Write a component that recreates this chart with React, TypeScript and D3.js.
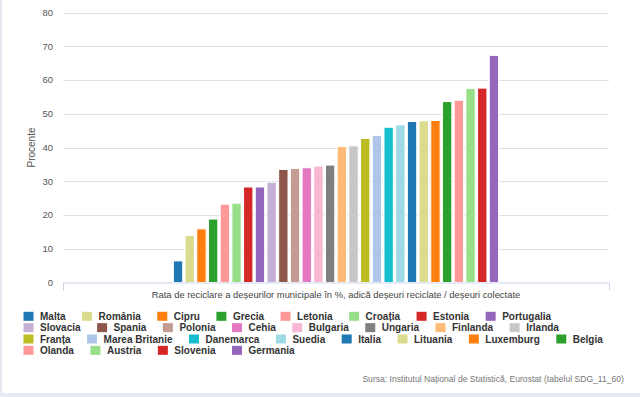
import React, { useRef, useEffect } from 'react';
import * as d3 from 'd3';

// Rata de reciclare a deșeurilor municipale (%), tabelul SDG_11_60
const countries = [
  'Malta', 'România', 'Cipru', 'Grecia', 'Letonia', 'Croația', 'Estonia', 'Portugalia',
  'Slovacia', 'Spania', 'Polonia', 'Cehia', 'Bulgaria', 'Ungaria', 'Finlanda', 'Irlanda',
  'Franța', 'Marea Britanie', 'Danemarca', 'Suedia', 'Italia', 'Lituania', 'Luxemburg', 'Belgia',
  'Olanda', 'Austria', 'Slovenia', 'Germania',
];
const values = [
  6.4, 13.9, 15.9, 18.8, 23.2, 23.5, 28.3, 28.3,
  29.7, 33.5, 33.8, 34.0, 34.5, 34.8, 40.3, 40.5,
  42.7, 43.6, 46.0, 46.7, 47.7, 47.9, 48.0, 53.6,
  54.0, 57.5, 57.6, 67.3,
];
const colors = [
  '#1f77b4', '#dbdb8d', '#ff7f0e', '#2ca02c', '#ff9896', '#98df8a', '#d62728', '#9467bd',
  '#c5b0d5', '#8c564b', '#c49c94', '#e377c2', '#f7b6d2', '#7f7f7f', '#ffbb78', '#c7c7c7',
  '#bcbd22', '#aec7e8', '#17becf', '#9edae5', '#1f77b4', '#dbdb8d', '#ff7f0e', '#2ca02c',
  '#ff9896', '#98df8a', '#d62728', '#9467bd',
];
const yTicks = [0, 10, 20, 30, 40, 50, 60, 70, 80];
const categories = ['Rata de reciclare a deșeurilor municipale în %, adică deșeuri reciclate / deșeuri colectate'];
const yTitle = 'Procente';
const source = 'Sursa: Institutul Național de Statistică, Eurostat (tabelul SDG_11_60)';

const W = 640;
const H = 397;

const App = () => {
  const chartRef = useRef<SVGSVGElement>(null);

  useEffect(() => {
    const svg = d3.select(chartRef.current);
    svg.selectAll('*').remove();

    const plot = { left: 63, right: 609, top: 12.5, bottom: 282.5 };

    // frame of the page
    svg.append('rect').attr('width', W).attr('height', H).attr('fill', '#fff');
    svg.append('rect').attr('x', 0).attr('y', 0).attr('width', 2).attr('height', H).attr('fill', '#e4e9f0');
    svg.append('rect').attr('x', 0).attr('y', 393).attr('width', W).attr('height', 4).attr('fill', '#e6ebf1');

    const yScale = d3.scaleLinear().domain([0, 80]).range([plot.bottom, plot.top]);

    // one category, one series per country
    const xOuter = d3.scaleBand().domain(categories).range([plot.left, plot.right]);
    const bw = xOuter.bandwidth();
    const x0 = xOuter(categories[0]) as number;
    const xInner = d3
      .scaleBand()
      .domain(countries)
      .range([x0 + bw * 0.2, x0 + bw * 0.8])
      .paddingInner(0.2)
      .paddingOuter(0.1);

    // gridlines
    svg
      .append('g')
      .selectAll('line')
      .data(yTicks.filter((t) => t > 0))
      .enter()
      .append('line')
      .attr('x1', plot.left)
      .attr('x2', plot.right)
      .attr('y1', (d) => Math.round(yScale(d)) + 0.5)
      .attr('y2', (d) => Math.round(yScale(d)) + 0.5)
      .attr('stroke', '#e2e2e2')
      .attr('stroke-width', 1.2);

    // y labels
    svg
      .append('g')
      .selectAll('text')
      .data(yTicks)
      .enter()
      .append('text')
      .attr('x', 53)
      .attr('y', (d) => yScale(d))
      .attr('dy', '0.35em')
      .attr('text-anchor', 'end')
      .style('font-family', "'Liberation Sans', Arial, sans-serif")
      .style('font-size', '9.5px')
      .style('fill', '#555')
      .text((d) => d);

    svg
      .append('text')
      .attr('transform', `translate(35,${(plot.top + plot.bottom) / 2}) rotate(-90)`)
      .attr('text-anchor', 'middle')
      .style('font-family', "'Liberation Sans', Arial, sans-serif")
      .style('font-size', '10px')
      .style('fill', '#555')
      .text(yTitle);

    // bars
    svg
      .append('g')
      .selectAll('rect')
      .data(countries.map((c, i) => ({ c, v: values[i], col: colors[i] })))
      .enter()
      .append('rect')
      .attr('x', (d) => xInner(d.c) as number)
      .attr('width', xInner.bandwidth())
      .attr('y', (d) => yScale(d.v))
      .attr('height', (d) => plot.bottom - yScale(d.v))
      .attr('fill', (d) => d.col)
      .attr('stroke', '#fff')
      .attr('stroke-width', 1);

    // x axis
    const ax = svg.append('g').attr('stroke', '#ccd6eb').attr('stroke-width', 1);
    ax.append('line').attr('x1', plot.left).attr('x2', plot.right).attr('y1', plot.bottom + 0.5).attr('y2', plot.bottom + 0.5);
    [x0, x0 + bw].forEach((x) => {
      ax.append('line')
        .attr('x1', Math.round(x) + 0.5)
        .attr('x2', Math.round(x) + 0.5)
        .attr('y1', plot.bottom)
        .attr('y2', plot.bottom + 8);
    });

    svg
      .append('text')
      .attr('x', x0 + bw / 2)
      .attr('y', 297.5)
      .attr('text-anchor', 'middle')
      .style('font-family', "'Liberation Sans', Arial, sans-serif")
      .style('font-size', '9.4px')
      .style('fill', '#444')
      .text(categories[0]);

    // legend, flowing into rows
    const legend = svg.append('g');
    const startX = 23.5;
    const maxX = 614;
    const rowH = 11.35;
    let lx = startX;
    let row = 0;
    countries.forEach((c, i) => {
      const item = legend.append('g');
      const t = item
        .append('text')
        .attr('x', 16.5)
        .attr('dy', '0.35em')
        .style('font-family', "'Liberation Sans', Arial, sans-serif")
        .style('font-size', '10px')
        .style('font-weight', 'bold')
        .style('fill', '#333')
        .text(c);
      const tw = (t.node() as SVGTextElement).getComputedTextLength();
      if (lx > startX && lx + 16.5 + tw > maxX) {
        lx = startX;
        row += 1;
      }
      const cy = 316.3 + row * rowH;
      item.attr('transform', `translate(${lx},${cy})`);
      item
        .append('rect')
        .attr('x', 0)
        .attr('y', -4.5)
        .attr('width', 10)
        .attr('height', 9)
        .attr('fill', colors[i]);
      lx += 16.5 + tw + 16.5;
    });

    svg
      .append('text')
      .attr('x', 624)
      .attr('y', 381.5)
      .attr('text-anchor', 'end')
      .style('font-family', "'Liberation Sans', Arial, sans-serif")
      .style('font-size', '8.6px')
      .style('fill', '#777')
      .text(source);
  }, []);

  return (
    <svg
      ref={chartRef}
      width={W}
      height={H}
      style={{ position: 'absolute', left: 0, top: 0, display: 'block' }}
    ></svg>
  );
};

export default App;
